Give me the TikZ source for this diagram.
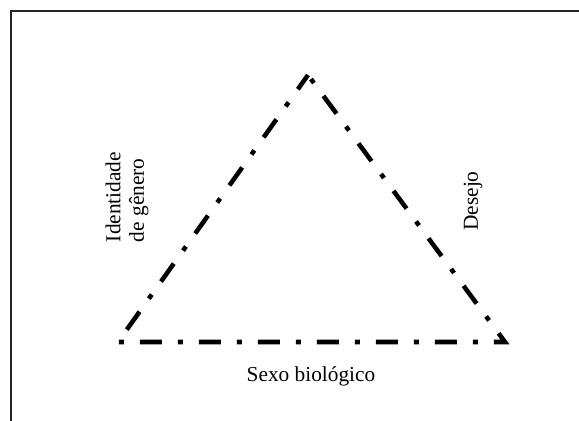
\documentclass[tikz,border=0pt]{standalone}
\usepackage{fontspec}
\setmainfont{Liberation Serif}
\tikzset{
  sideline/.style={line width=3.4pt,line cap=butt,line join=miter,
    dash pattern=on 3.75pt off 12pt on 16.5pt off 12pt,dash phase=40.5pt},
  framerule/.style={line width=1.5pt,black!85}
}
\begin{document}
\begin{tikzpicture}[x=0.75pt,y=-0.75pt,every node/.style={font=\fontsize{16}{17.5}\selectfont,inner sep=0pt}]
\useasboundingbox (0,0) rectangle (579,421);
% frame, only top and left sides show
\draw[framerule] (590,11) -- (11,11) -- (11,430);
% corners of the triangle
\coordinate (apex) at (308,75);
\coordinate (rightfoot) at (505,342);
\coordinate (leftfoot) at (118,342);
\draw[sideline] (apex) -- (rightfoot) -- (leftfoot) -- cycle;
\node[rotate=90,align=left] (identidade) at (127,197) {Identidade\\de gênero};
\node[rotate=90] (desejo) at (473,201) {Desejo};
\node[anchor=base] (sexo) at (311,381) {Sexo biológico};
\end{tikzpicture}
\end{document}
